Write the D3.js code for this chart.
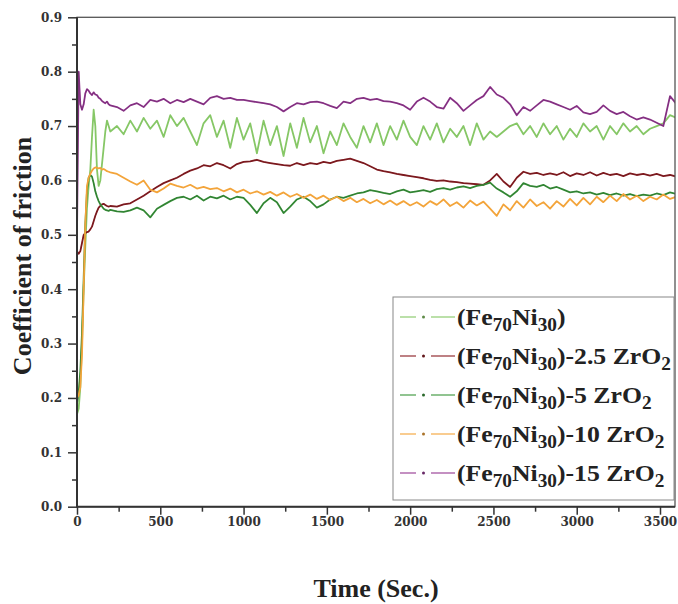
<!DOCTYPE html>
<html>
<head>
<meta charset="utf-8">
<script src="https://cdn.jsdelivr.net/npm/d3@7"></script>
<style>
  body { margin: 0; background: #fff; }
</style>
</head>
<body>
<script>
// sampling times (s)
const times = [0,10,20,30,40,50,60,70,80,90,100,110,120,130,140,150,160,170,180,190,200,
  240,280,320,360,400,440,480,520,560,600,640,680,720,760,800,840,880,920,960,1000,
  1040,1080,1120,1160,1200,1240,1280,1320,1360,1400,1440,1480,1520,1560,1600,1640,1680,1720,1760,1800,
  1840,1880,1920,1960,2000,2040,2080,2120,2160,2200,2240,2280,2320,2360,2400,2440,2480,2520,2560,2600,
  2640,2680,2720,2760,2800,2840,2880,2920,2960,3000,3040,3080,3120,3160,3200,3240,3280,3320,3360,3400,
  3440,3480,3520,3560,3600];

// coefficient of friction
const feNi = [0.17,0.18,0.22,0.30,0.40,0.48,0.55,0.59,0.62,0.68,0.73,0.70,0.62,0.59,0.60,0.63,0.66,0.69,0.71,0.70,0.69,
  0.70,0.685,0.71,0.69,0.715,0.695,0.71,0.68,0.72,0.70,0.715,0.69,0.665,0.705,0.72,0.68,0.71,0.66,0.715,0.675,
  0.705,0.65,0.71,0.665,0.70,0.645,0.705,0.66,0.715,0.67,0.70,0.65,0.69,0.665,0.705,0.68,0.66,0.70,0.67,0.705,
  0.665,0.70,0.675,0.71,0.68,0.665,0.70,0.675,0.705,0.67,0.695,0.68,0.70,0.665,0.705,0.675,0.69,0.68,0.69,0.70,
  0.705,0.685,0.70,0.68,0.705,0.685,0.70,0.675,0.695,0.68,0.705,0.69,0.70,0.675,0.70,0.685,0.705,0.69,0.70,0.685,
  0.695,0.70,0.705,0.72,0.715];

const zr25 = [0.47,0.465,0.47,0.485,0.50,0.503,0.505,0.506,0.51,0.515,0.525,0.535,0.543,0.55,0.553,0.556,0.557,0.555,0.553,0.552,0.553,
  0.552,0.556,0.558,0.565,0.572,0.58,0.588,0.595,0.60,0.605,0.612,0.618,0.622,0.628,0.626,0.632,0.628,0.622,0.63,0.634,
  0.635,0.638,0.634,0.632,0.63,0.628,0.627,0.632,0.628,0.632,0.63,0.634,0.632,0.636,0.638,0.64,0.636,0.632,0.626,0.62,
  0.617,0.615,0.612,0.61,0.608,0.606,0.604,0.601,0.599,0.60,0.598,0.597,0.595,0.594,0.593,0.592,0.60,0.612,0.598,0.588,
  0.605,0.616,0.612,0.614,0.61,0.613,0.61,0.615,0.608,0.613,0.61,0.615,0.609,0.614,0.61,0.612,0.608,0.613,0.61,0.612,
  0.609,0.612,0.608,0.61,0.607];

const zr5 = [0.19,0.21,0.25,0.32,0.42,0.52,0.58,0.605,0.61,0.607,0.595,0.58,0.57,0.562,0.556,0.552,0.548,0.546,0.545,0.544,0.546,
  0.543,0.542,0.545,0.55,0.545,0.532,0.548,0.555,0.562,0.568,0.57,0.565,0.572,0.563,0.57,0.567,0.572,0.565,0.57,0.568,
  0.555,0.54,0.558,0.568,0.56,0.54,0.552,0.565,0.57,0.562,0.55,0.556,0.565,0.57,0.568,0.572,0.576,0.578,0.582,0.58,
  0.577,0.575,0.58,0.583,0.578,0.58,0.582,0.579,0.584,0.586,0.583,0.587,0.589,0.586,0.59,0.592,0.596,0.585,0.578,0.57,
  0.58,0.595,0.59,0.588,0.592,0.585,0.588,0.583,0.578,0.58,0.576,0.578,0.574,0.577,0.573,0.576,0.572,0.575,0.571,0.574,
  0.572,0.576,0.573,0.578,0.575];

const zr10 = [0.20,0.205,0.22,0.28,0.40,0.52,0.59,0.605,0.612,0.618,0.622,0.624,0.623,0.622,0.623,0.62,0.621,0.619,0.617,0.616,0.615,
  0.612,0.605,0.598,0.592,0.60,0.583,0.578,0.585,0.594,0.59,0.587,0.592,0.585,0.588,0.584,0.586,0.58,0.585,0.578,0.583,
  0.576,0.58,0.574,0.579,0.572,0.578,0.57,0.575,0.568,0.574,0.566,0.572,0.564,0.57,0.562,0.568,0.56,0.566,0.558,0.564,
  0.556,0.563,0.555,0.562,0.554,0.56,0.552,0.562,0.555,0.565,0.553,0.56,0.55,0.563,0.554,0.561,0.548,0.535,0.556,0.545,
  0.562,0.55,0.565,0.553,0.56,0.548,0.562,0.552,0.566,0.554,0.568,0.556,0.57,0.56,0.572,0.562,0.575,0.565,0.572,0.562,
  0.57,0.565,0.574,0.566,0.57];

const zr15 = [0.50,0.80,0.74,0.73,0.74,0.76,0.768,0.765,0.76,0.757,0.762,0.758,0.757,0.752,0.75,0.746,0.744,0.742,0.745,0.74,0.738,
  0.735,0.728,0.738,0.742,0.735,0.748,0.745,0.75,0.742,0.748,0.744,0.75,0.745,0.74,0.752,0.755,0.75,0.752,0.748,0.748,
  0.746,0.744,0.742,0.74,0.735,0.727,0.735,0.742,0.74,0.744,0.745,0.742,0.737,0.733,0.745,0.742,0.75,0.752,0.748,0.75,
  0.746,0.745,0.742,0.738,0.73,0.745,0.752,0.745,0.735,0.732,0.752,0.742,0.728,0.738,0.748,0.755,0.772,0.758,0.752,0.74,
  0.72,0.735,0.728,0.738,0.748,0.745,0.74,0.735,0.73,0.737,0.725,0.722,0.726,0.738,0.728,0.722,0.726,0.718,0.712,0.716,
  0.712,0.706,0.70,0.755,0.74];

const seriesValues = [feNi, zr25, zr5, zr10, zr15];
const legendSuffix = ["", "-2.5", "-5", "-10", "-15"];
const colors = ["#86c766", "#8b1f24", "#3b953c", "#f3a43a", "#953a93"];
const darkCore = [false, true, true, false, true];
const yTicks = [0, 0.1, 0.2, 0.3, 0.4, 0.5, 0.6, 0.7, 0.8, 0.9];
const yMinor = [0.05, 0.15, 0.25, 0.35, 0.45, 0.55, 0.65, 0.75, 0.85];
const xTicks = [0, 500, 1000, 1500, 2000, 2500, 3000, 3500];
const xMinor = [250, 750, 1250, 1750, 2250, 2750, 3250];

const width = 678;
const height = 604;
const plotLeft = 77, plotRight = 675, plotTop = 17.3, plotBottom = 506.7;

const x = d3.scaleLinear().domain([0, 3590]).range([plotLeft, plotRight]);
const y = d3.scaleLinear().domain([0, 0.9]).range([plotBottom, plotTop]);

const svg = d3.select("body").append("svg")
    .attr("width", width)
    .attr("height", height);

svg.append("clipPath")
    .attr("id", "plot")
  .append("rect")
    .attr("x", plotLeft)
    .attr("y", plotTop)
    .attr("width", plotRight - plotLeft)
    .attr("height", plotBottom - plotTop);

const line = d3.line()
    .x((d, i) => x(times[i]))
    .y(d => y(d));

const series = svg.append("g")
    .attr("clip-path", "url(#plot)")
  .selectAll("g")
  .data(seriesValues)
  .join("g");

series.append("path")
    .attr("fill", "none")
    .attr("stroke", (d, i) => colors[i])
    .attr("stroke-width", 1.8)
    .attr("stroke-linejoin", "round")
    .attr("d", line);

// the printed curves have a darker core from the dense symbols
series.filter((d, i) => darkCore[i])
  .append("path")
    .attr("fill", "none")
    .attr("stroke", d => d3.color(colors[seriesValues.indexOf(d)]).darker(1.3))
    .attr("stroke-opacity", 0.6)
    .attr("stroke-width", 0.7)
    .attr("stroke-linejoin", "round")
    .attr("d", line);

// frame
svg.append("rect")
    .attr("x", plotLeft)
    .attr("y", plotTop)
    .attr("width", plotRight - plotLeft)
    .attr("height", plotBottom - plotTop)
    .attr("fill", "none")
    .attr("stroke", "#555")
    .attr("stroke-width", 1.3);

const tickFont = g => g
    .attr("font-family", "DejaVu Serif")
    .attr("font-weight", "bold")
    .attr("font-size", 12)
    .attr("color", "#333");

svg.append("g")
    .attr("transform", `translate(${plotLeft},0)`)
    .call(d3.axisLeft(y).tickValues(yTicks).tickFormat(d3.format(".1f")).tickSize(9).tickPadding(6))
    .call(tickFont)
    .call(g => g.select(".domain").remove());

svg.append("g")
    .attr("transform", `translate(${plotLeft},0)`)
    .call(d3.axisLeft(y).tickValues(yMinor).tickFormat("").tickSize(5))
    .call(tickFont)
    .call(g => g.select(".domain").remove());

svg.append("g")
    .attr("transform", `translate(0,${plotBottom})`)
    .call(d3.axisBottom(x).tickValues(xTicks).tickFormat(d3.format("d")).tickSize(8).tickPadding(3))
    .call(tickFont)
    .call(g => g.select(".domain").remove());

svg.append("g")
    .attr("transform", `translate(0,${plotBottom})`)
    .call(d3.axisBottom(x).tickValues(xMinor).tickFormat("").tickSize(5))
    .call(tickFont)
    .call(g => g.select(".domain").remove());

svg.selectAll(".tick line").attr("stroke-width", 1.5);

// heavier left and bottom axis lines
svg.append("path")
    .attr("d", `M${plotLeft},${plotTop}V${plotBottom}H${plotRight}`)
    .attr("fill", "none")
    .attr("stroke", "#333")
    .attr("stroke-width", 2);

// axis titles
svg.append("text")
    .attr("transform", `translate(31,${(plotTop + plotBottom) / 2 - 6}) rotate(-90)`)
    .attr("text-anchor", "middle")
    .attr("font-family", "Liberation Serif")
    .attr("font-weight", "bold")
    .attr("font-size", 26)
    .attr("fill", "#222")
    .text("Coefficient of friction");

svg.append("text")
    .attr("x", (plotLeft + plotRight) / 2)
    .attr("y", 597)
    .attr("text-anchor", "middle")
    .attr("font-family", "Liberation Serif")
    .attr("font-weight", "bold")
    .attr("font-size", 26)
    .attr("fill", "#222")
    .text("Time (Sec.)");

// legend
const legend = svg.append("g");

legend.append("rect")
    .attr("x", 393)
    .attr("y", 297)
    .attr("width", 281)
    .attr("height", 203)
    .attr("fill", "#fff")
    .attr("stroke", "#888")
    .attr("stroke-width", 1);

const rowY = i => 325 + i * 39;

const sym = legend.selectAll(".sym")
  .data(colors)
  .join("g")
    .attr("transform", (d, i) => `translate(0,${rowY(i) - 8})`);

sym.append("path")
    .attr("d", "M400,0H416M431,0H455")
    .attr("stroke", d => d)
    .attr("stroke-opacity", 0.75)
    .attr("stroke-width", 1.5);

sym.append("circle")
    .attr("cx", 423.5)
    .attr("cy", 0)
    .attr("r", 1.5)
    .attr("fill", d => d3.color(d).darker(1));

const labels = legend.append("g");

const label = labels.selectAll("text")
  .data(legendSuffix)
  .join("text")
    .attr("x", 0)
    .attr("y", (d, i) => rowY(i))
    .attr("font-family", "Liberation Serif")
    .attr("font-weight", "bold")
    .attr("font-size", 24)
    .attr("fill", "#222");

label.each(function(d) {
  const t = d3.select(this);
  t.append("tspan").text("(Fe");
  t.append("tspan").attr("font-size", 18).attr("dy", 6).text("70");
  t.append("tspan").attr("dy", -6).text("Ni");
  t.append("tspan").attr("font-size", 18).attr("dy", 6).text("30");
  t.append("tspan").attr("dy", -6).text(")" + d);
  if (d) {
    t.append("tspan").text(" ZrO");
    t.append("tspan").attr("font-size", 18).attr("dy", 6).text("2");
  }
});

// stretch the labels to the width they take in the figure
const w = label.filter((d, i) => i === 1).node().getComputedTextLength();
labels.attr("transform", `translate(457,0) scale(${214 / w},1)`);
</script>
</body>
</html>
